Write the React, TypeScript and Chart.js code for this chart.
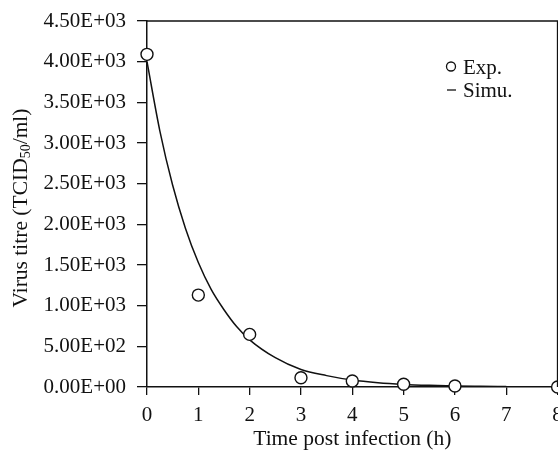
import React, { useEffect, useRef } from "react";
import { Chart, registerables } from "chart.js";

Chart.register(...registerables);

// measured points (Exp.)
const expHours = [0, 1, 2, 3, 4, 5, 6, 8];
const expTitre = [4090, 1130, 647, 114, 74, 33, 12, 0];

// simulated curve (Simu.)
const simuHours = [0, 0.25, 0.5, 0.75, 1, 1.25, 1.5, 1.75, 2, 2.5, 3, 3.5, 4, 4.5, 5, 5.5, 6, 6.5, 7];
const simuTitre = [4000, 3150, 2480, 1950, 1530, 1200, 950, 740, 580, 360, 215, 140, 85, 52, 32, 20, 12, 8, 5];

const yTicks = [0, 500, 1000, 1500, 2000, 2500, 3000, 3500, 4000, 4500];

const FONT = "'Liberation Serif', 'Times New Roman', serif";
const INK = "#111";
const SIZE = 21;

// 4500 -> "4.50E+03"
function sciLabel(v: number): string {
  const [m, e] = v.toExponential(2).toUpperCase().split("E");
  const sign = e[0] === "-" ? "-" : "+";
  const digits = e.replace(/[+-]/, "").padStart(2, "0");
  return `${m}E${sign}${digits}`;
}

const framePlugin = {
  id: "frameAndLabels",
  afterDraw(chart: any) {
    const { ctx, chartArea } = chart;
    const { left, right, top, bottom } = chartArea;
    ctx.save();
    // top and right frame lines
    ctx.strokeStyle = INK;
    ctx.lineWidth = 1.5;
    ctx.beginPath();
    ctx.moveTo(left, top);
    ctx.lineTo(right, top);
    ctx.lineTo(right, bottom);
    ctx.stroke();

    // y axis title with subscript
    const parts = [
      { t: "Virus titre (TCID", size: 21.5, dy: 0 },
      { t: "50", size: 14, dy: 5 },
      { t: "/ml)", size: 21.5, dy: 0 },
    ];
    let total = 0;
    parts.forEach((p) => {
      ctx.font = `${p.size}px ${FONT}`;
      total += ctx.measureText(p.t).width;
    });
    ctx.translate(21, 208);
    ctx.rotate(-Math.PI / 2);
    ctx.fillStyle = INK;
    ctx.textBaseline = "middle";
    ctx.textAlign = "left";
    let x = -total / 2;
    parts.forEach((p) => {
      ctx.font = `${p.size}px ${FONT}`;
      ctx.fillText(p.t, x, p.dy);
      x += ctx.measureText(p.t).width;
    });
    ctx.restore();

    // legend
    ctx.save();
    ctx.font = `${SIZE}px ${FONT}`;
    ctx.textBaseline = "middle";
    ctx.strokeStyle = INK;
    ctx.lineWidth = 1.3;
    const labels = chart.data.datasets.map((d: any) => d.label);
    ctx.beginPath();
    ctx.arc(451, 66.5, 4.5, 0, Math.PI * 2);
    ctx.fillStyle = "#fff";
    ctx.fill();
    ctx.stroke();
    ctx.fillStyle = INK;
    ctx.fillText(labels[0], 463, 68);
    ctx.beginPath();
    ctx.moveTo(447, 90);
    ctx.lineTo(456, 90);
    ctx.stroke();
    ctx.fillText(labels[1], 463, 91);
    ctx.restore();
  },
};

const App: React.FC = () => {
  const chartRef = useRef<HTMLCanvasElement | null>(null);

  useEffect(() => {
    document.body.style.margin = "0";
    if (!chartRef.current) return;
    const ctx = chartRef.current.getContext("2d");
    if (!ctx) return;

    const chart = new Chart(ctx, {
      type: "line",
      data: {
        datasets: [
          {
            label: "Exp.",
            data: expHours.map((h, i) => ({ x: h, y: expTitre[i] })),
            showLine: false,
            pointRadius: 6,
            pointBackgroundColor: "#fff",
            pointBorderColor: INK,
            pointBorderWidth: 1.4,
            clip: false,
            order: 0,
          },
          {
            label: "Simu.",
            data: simuHours.map((h, i) => ({ x: h, y: simuTitre[i] })),
            borderColor: INK,
            borderWidth: 1.5,
            pointRadius: 0,
            cubicInterpolationMode: "monotone",
            fill: false,
            order: 1,
          },
        ],
      },
      options: {
        animation: false,
        responsive: false,
        layout: { padding: { top: 21, right: 1, left: 0, bottom: 0 } },
        plugins: { legend: { display: false }, tooltip: { enabled: false } },
        scales: {
          x: {
            type: "linear",
            min: 0,
            max: 8,
            ticks: { stepSize: 1, color: INK, font: { family: FONT, size: SIZE }, padding: 8 },
            grid: { drawOnChartArea: false, color: INK, lineWidth: 1.3, tickLength: 8 },
            border: { color: INK, width: 1.5 },
            title: {
              display: true,
              text: "Time post infection (h)",
              color: INK,
              font: { family: FONT, size: 21.5 },
              padding: { top: 0, bottom: 1 },
            },
            afterFit: (scale: any) => {
              scale.height = 66;
              scale.paddingRight = 0;
              scale.paddingLeft = 0;
            },
          },
          y: {
            min: 0,
            max: 4500,
            afterBuildTicks: (scale: any) => {
              scale.ticks = yTicks.map((v) => ({ value: v }));
            },
            ticks: {
              color: INK,
              font: { family: FONT, size: SIZE },
              padding: 11,
              callback: (v: any) => sciLabel(Number(v)),
            },
            grid: { drawOnChartArea: false, color: INK, lineWidth: 1.3, tickLength: 10 },
            border: { color: INK, width: 1.5 },
            afterFit: (scale: any) => {
              scale.width = 147;
              scale.paddingTop = 0;
              scale.paddingBottom = 0;
            },
          },
        },
      },
      plugins: [framePlugin],
    } as any);

    return () => {
      chart.destroy();
    };
  }, []);

  // canvas is a little wider than the view so the last x label is cut at the edge
  return (
    <div style={{ width: "558px", height: "453px", overflow: "hidden", background: "#fff" }}>
      <canvas ref={chartRef} width={565} height={453} style={{ display: "block" }}></canvas>
    </div>
  );
};

export default App;
